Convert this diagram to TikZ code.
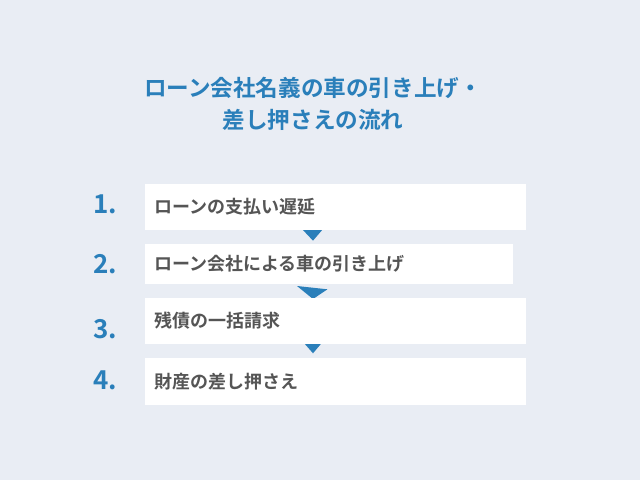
\documentclass[tikz,border=0pt]{standalone}
\usepackage{fontspec}
\newfontfamily\cjk{Noto Sans CJK JP}[BoldFont={Noto Sans CJK JP Bold}]
\usetikzlibrary{calc}
\definecolor{bg}{HTML}{E9EDF4}
\definecolor{accent}{HTML}{2A7FBA}
\definecolor{txt}{HTML}{555555}
\tikzset{
  stepbox/.style={fill=white, draw=none, anchor=north west, inner xsep=9pt, inner ysep=0pt,
    align=left, font=\cjk\bfseries\fontsize{18}{20}\selectfont, text=txt},
  num/.style={anchor=west, inner sep=0pt, font=\cjk\bfseries\fontsize{26}{28}\selectfont, text=accent},
  marker/.style={fill=accent, draw=none},
  title/.style={align=center, inner sep=0pt, font=\cjk\bfseries\fontsize{22.6}{32}\selectfont, text=accent}
}
\begin{document}
\begin{tikzpicture}[x=1pt,y=-1pt]
\fill[bg] (0,0) rectangle (640,480);
\useasboundingbox (0,0) rectangle (640,480);
\node[title] (t) at (313,104) {ローン会社名義の車の引き上げ・\\差し押さえの流れ};
% markers (drawn first so boxes overlap them)
\fill[marker] (302,229) -- (323,229) -- (313,240.7) -- cycle;
\fill[marker] (297,286) -- (327.5,289.3) -- (313,299) -- cycle;
\fill[marker] (304,343) -- (321.7,343) -- (313,353.3) -- cycle;
\node[stepbox, minimum width=380.7pt, text width=362.7pt, minimum height=46.7pt] (b1) at (145,183.3) {ローンの支払い遅延};
\node[stepbox, minimum width=368pt, text width=350pt, minimum height=40pt] (b2) at (145,244) {ローン会社による車の引き上げ};
\node[stepbox, minimum width=380.7pt, text width=362.7pt, minimum height=46.7pt] (b3) at (145,297.3) {残債の一括請求};
\node[stepbox, minimum width=380.7pt, text width=362.7pt, minimum height=46.7pt] (b4) at (145,358) {財産の差し押さえ};
\node[num] (n1) at (93,204) {1.};
\node[num] (n2) at (93,264.5) {2.};
\node[num] (n3) at (93,328.8) {3.};
\node[num] (n4) at (93,380) {4.};
\end{tikzpicture}
\end{document}
